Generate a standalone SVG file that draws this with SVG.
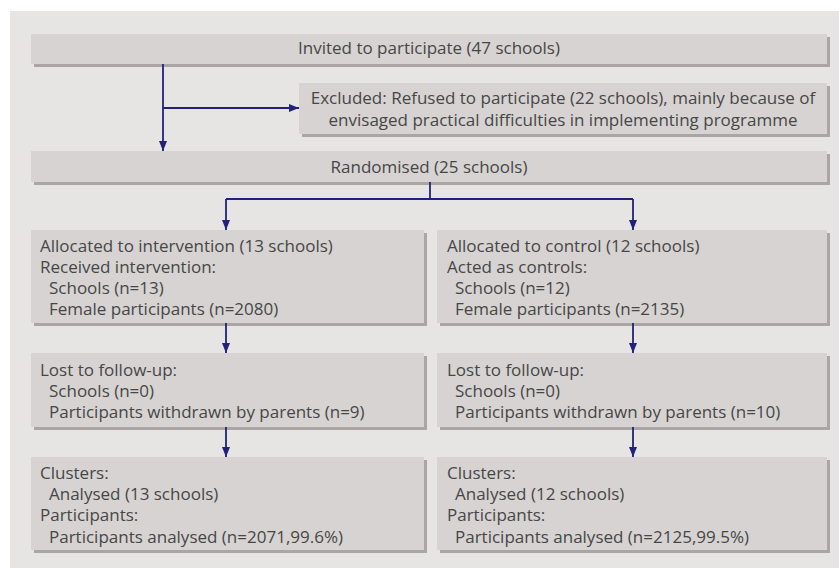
<svg xmlns="http://www.w3.org/2000/svg" width="839" height="568" viewBox="0 0 839 568">
<defs>
<style>
.box{fill:#d6d3d2}
.sh{fill:#a9a6a5}
text{font-family:"Open Sans","Noto Sans","Liberation Sans",sans-serif;font-size:17px;fill:#474747}
.c{text-anchor:middle}
.ln{stroke:#22227a;stroke-width:1.8;fill:none}
</style>
<marker id="ah" viewBox="0 0 10 10" refX="10" refY="5" markerWidth="10" markerHeight="10" markerUnits="userSpaceOnUse" orient="auto">
<path d="M0,1 L10,5 L0,9 Z" fill="#22227a"/>
</marker>
</defs>
<rect x="0" y="0" width="839" height="568" fill="#ffffff"/>
<rect x="10" y="11" width="829" height="557" fill="#e6e5e4"/>

<g id="invited">
<rect class="sh" x="34" y="37" width="796" height="30"/>
<rect class="box" x="31" y="34" width="796" height="30"/>
<text class="c" x="429" y="54">Invited to participate (47 schools)</text>
</g>
<g id="excluded">
<rect class="sh" x="302" y="86" width="528" height="51"/>
<rect class="box" x="299" y="83" width="528" height="51"/>
<text class="c" x="563" y="104">Excluded: Refused to participate (22 schools), mainly because of</text>
<text class="c" x="563" y="126">envisaged practical difficulties in implementing programme</text>
</g>
<g id="randomised">
<rect class="sh" x="34" y="154" width="796" height="31"/>
<rect class="box" x="31" y="151" width="796" height="31"/>
<text class="c" x="429" y="173">Randomised (25 schools)</text>
</g>
<g id="intervention">
<rect class="sh" x="34" y="233" width="393" height="93"/>
<rect class="box" x="31" y="230" width="393" height="93"/>
<text x="40" y="252">Allocated to intervention (13 schools)</text>
<text x="40" y="273">Received intervention:</text>
<text x="49" y="294">Schools (n=13)</text>
<text x="49" y="315">Female participants (n=2080)</text>
</g>
<g id="control">
<rect class="sh" x="440" y="233" width="390" height="93"/>
<rect class="box" x="437" y="230" width="390" height="93"/>
<text x="447" y="252">Allocated to control (12 schools)</text>
<text x="447" y="273">Acted as controls:</text>
<text x="455" y="294">Schools (n=12)</text>
<text x="455" y="315">Female participants (n=2135)</text>
</g>
<g id="lost-intervention">
<rect class="sh" x="34" y="356" width="393" height="74"/>
<rect class="box" x="31" y="353" width="393" height="74"/>
<text x="40" y="376">Lost to follow-up:</text>
<text x="49" y="397">Schools (n=0)</text>
<text x="49" y="418">Participants withdrawn by parents (n=9)</text>
</g>
<g id="lost-control">
<rect class="sh" x="440" y="356" width="390" height="74"/>
<rect class="box" x="437" y="353" width="390" height="74"/>
<text x="447" y="376">Lost to follow-up:</text>
<text x="455" y="397">Schools (n=0)</text>
<text x="455" y="418">Participants withdrawn by parents (n=10)</text>
</g>
<g id="analysed-intervention">
<rect class="sh" x="34" y="460" width="393" height="93"/>
<rect class="box" x="31" y="457" width="393" height="93"/>
<text x="40" y="479">Clusters:</text>
<text x="49" y="500">Analysed (13 schools)</text>
<text x="40" y="521">Participants:</text>
<text x="49" y="543">Participants analysed (n=2071,99.6%)</text>
</g>
<g id="analysed-control">
<rect class="sh" x="440" y="460" width="390" height="93"/>
<rect class="box" x="437" y="457" width="390" height="93"/>
<text x="447" y="479">Clusters:</text>
<text x="455" y="500">Analysed (12 schools)</text>
<text x="447" y="521">Participants:</text>
<text x="455" y="543">Participants analysed (n=2125,99.5%)</text>
</g>

<g id="connectors">
<path class="ln" d="M163,64 V151" marker-end="url(#ah)"/>
<path class="ln" d="M163,108 H299" marker-end="url(#ah)"/>
<path class="ln" d="M430,182 V199"/>
<path class="ln" d="M226,199 H633"/>
<path class="ln" d="M226,199 V230" marker-end="url(#ah)"/>
<path class="ln" d="M633,199 V230" marker-end="url(#ah)"/>
<path class="ln" d="M226,323 V353" marker-end="url(#ah)"/>
<path class="ln" d="M633,323 V353" marker-end="url(#ah)"/>
<path class="ln" d="M226,427 V457" marker-end="url(#ah)"/>
<path class="ln" d="M633,427 V457" marker-end="url(#ah)"/>
</g>
</svg>
